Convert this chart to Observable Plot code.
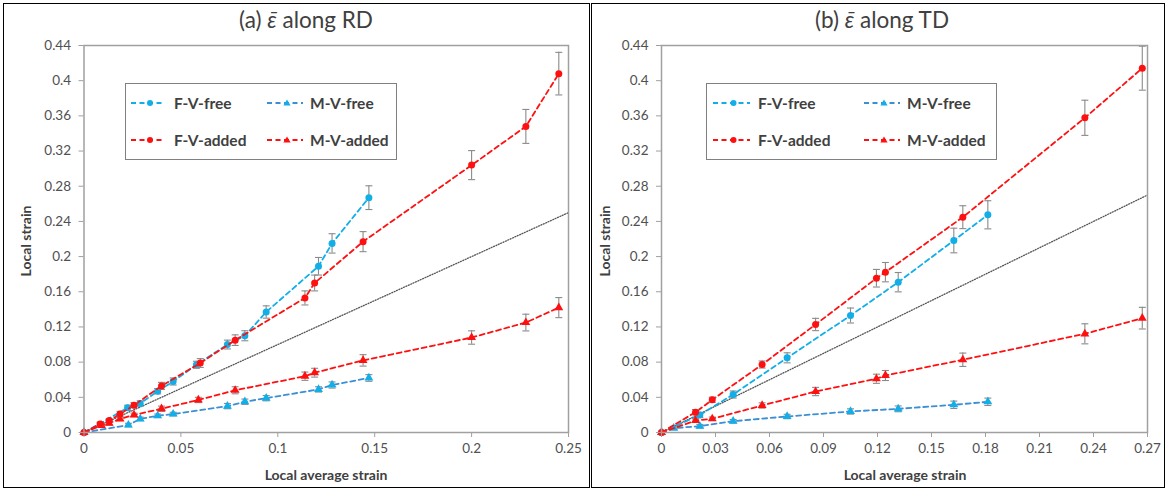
<!DOCTYPE html>
<html><head><meta charset="utf-8">
<script src="https://cdn.jsdelivr.net/npm/d3@7"></script>
<script src="https://cdn.jsdelivr.net/npm/@observablehq/plot@0.6"></script>
<style>
body{margin:0;background:#fff;font-family:Lato,"Open Sans",sans-serif;}
#wrap{position:relative;width:1168px;height:491px;overflow:hidden;background:#fff}
.frame{position:absolute;border:1.5px solid #000;box-sizing:border-box}
.title{position:absolute;top:6px;font-size:22.5px;color:#404040;white-space:nowrap;transform:translateX(-50%)}
.xlab{position:absolute;top:466px;font-size:14px;font-weight:bold;color:#404040;transform:translateX(-50%);white-space:nowrap}
.ylab{position:absolute;font-size:14px;font-weight:bold;color:#404040;white-space:nowrap;transform:translate(-50%,-50%) rotate(-90deg)}
.plot{position:absolute;top:38px}
.legend{position:absolute;border:1.5px solid #808080;box-sizing:border-box;background:#fff}
.item{position:absolute;height:20px;display:flex;align-items:center}
.item span{font-size:15.5px;font-weight:bold;color:#404040;white-space:nowrap}
</style></head>
<body><div id="wrap"></div>
<script>
// ---------- Data ----------
const xTicksRD = [0, 0.05, 0.1, 0.15, 0.2, 0.25];
const xTicksTD = [0, 0.03, 0.06, 0.09, 0.12, 0.15, 0.18, 0.21, 0.24, 0.27];
const yTicks = [0, 0.04, 0.08, 0.12, 0.16, 0.2, 0.24, 0.28, 0.32, 0.36, 0.4, 0.44];
const seriesNames = ["F-V-free", "M-V-free", "F-V-added", "M-V-added"];

// (a) along RD
const rdFVfreeX = [0, 0.0225, 0.029, 0.038, 0.046, 0.058, 0.074, 0.083, 0.094, 0.121, 0.128, 0.147];
const rdFVfreeY = [0, 0.028, 0.033, 0.047, 0.058, 0.077, 0.100, 0.110, 0.137, 0.189, 0.215, 0.267];
const rdFVfreeE = [0, 0.003, 0.003, 0.003, 0.004, 0.004, 0.005, 0.0057, 0.007, 0.010, 0.011, 0.0135];

const rdMVfreeX = [0, 0.0229, 0.029, 0.038, 0.046, 0.074, 0.083, 0.094, 0.121, 0.128, 0.147];
const rdMVfreeY = [0, 0.0085, 0.0155, 0.019, 0.021, 0.030, 0.035, 0.039, 0.049, 0.054, 0.062];
const rdMVfreeE = [0, 0.002, 0.002, 0.002, 0.002, 0.003, 0.003, 0.003, 0.003, 0.0035, 0.0038];

const rdFVaddX = [0, 0.0083, 0.013, 0.0186, 0.0258, 0.040, 0.060, 0.078, 0.114, 0.119, 0.144, 0.200, 0.228, 0.245];
const rdFVaddY = [0, 0.0097, 0.0136, 0.021, 0.031, 0.053, 0.079, 0.105, 0.153, 0.170, 0.217, 0.304, 0.348, 0.408];
const rdFVaddE = [0, 0.002, 0.002, 0.003, 0.003, 0.004, 0.005, 0.006, 0.008, 0.009, 0.0114, 0.0165, 0.0193, 0.0242];

const rdMVaddX = [0, 0.009, 0.013, 0.0186, 0.0258, 0.040, 0.059, 0.078, 0.114, 0.119, 0.144, 0.200, 0.228, 0.245];
const rdMVaddY = [0, 0.008, 0.0105, 0.0155, 0.020, 0.027, 0.037, 0.048, 0.064, 0.068, 0.082, 0.108, 0.125, 0.142];
const rdMVaddE = [0, 0.002, 0.002, 0.002, 0.002, 0.003, 0.003, 0.004, 0.0047, 0.005, 0.0065, 0.0076, 0.0095, 0.0114];

// (b) along TD
const tdFVfreeX = [0, 0.0213, 0.0398, 0.0698, 0.105, 0.1315, 0.1624, 0.1813];
const tdFVfreeY = [0, 0.020, 0.0432, 0.0849, 0.133, 0.1709, 0.2183, 0.2475];
const tdFVfreeE = [0, 0.003, 0.004, 0.0057, 0.0085, 0.011, 0.014, 0.016];

const tdMVfreeX = [0, 0.0068, 0.0213, 0.0398, 0.0698, 0.105, 0.1315, 0.1624, 0.1813];
const tdMVfreeY = [0, 0.0049, 0.0072, 0.0128, 0.0182, 0.0239, 0.0269, 0.0315, 0.0349];
const tdMVfreeE = [0, 0.0015, 0.002, 0.002, 0.0025, 0.003, 0.0033, 0.0042, 0.0042];

const tdFVaddX = [0, 0.0189, 0.0282, 0.0559, 0.0856, 0.1194, 0.1244, 0.1674, 0.2352, 0.2671];
const tdFVaddY = [0, 0.0231, 0.0372, 0.0773, 0.1228, 0.1754, 0.1823, 0.2448, 0.3578, 0.4142];
const tdFVaddE = [0, 0.003, 0.003, 0.004, 0.007, 0.010, 0.011, 0.013, 0.020, 0.025];

const tdMVaddX = [0, 0.0189, 0.0282, 0.0559, 0.0856, 0.1194, 0.1244, 0.1674, 0.2352, 0.2671];
const tdMVaddY = [0, 0.0136, 0.0156, 0.0307, 0.0466, 0.0611, 0.0648, 0.0827, 0.1122, 0.130];
const tdMVaddE = [0, 0.002, 0.002, 0.003, 0.0047, 0.0052, 0.0057, 0.0076, 0.0114, 0.0123];

// ---------- Styles ----------
const lightBlue = "#12aee8";
const midBlue = "#3b8fd4";
const red = "#ff1010";
const styles = {
  "F-V-free": {line: lightBlue, fill: lightBlue, symbol: "circle", r: 3.5},
  "M-V-free": {line: midBlue, fill: lightBlue, symbol: "triangle", r: 3.3},
  "F-V-added": {line: red, fill: red, symbol: "circle", r: 3.5},
  "M-V-added": {line: red, fill: red, symbol: "triangle", r: 3.3}
};
const capSymbol = {draw(ctx, size) { const w = Math.sqrt(size / Math.PI); ctx.moveTo(-w, 0); ctx.lineTo(w, 0); }};
const fmt = d => d3.format(".2f")(d).replace(/\.?0+$/, "");
const table = (xs, ys, es) => xs.map((x, i) => ({x, y: ys[i], e: es[i]}));

function seriesMarks(name, rows) {
  const s = styles[name];
  const withErr = rows.filter(d => d.e > 0);
  return [
    Plot.line(rows, {x: "x", y: "y", stroke: s.line, strokeWidth: 1.8, strokeDasharray: "5,3.5"}),
    Plot.ruleX(withErr, {x: "x", y1: d => d.y - d.e, y2: d => d.y + d.e, stroke: "#8a8a8a", strokeWidth: 1.1}),
    Plot.dot(withErr, {x: "x", y: d => d.y - d.e, symbol: capSymbol, r: 3.5, stroke: "#8a8a8a", strokeWidth: 1.1, fill: "none"}),
    Plot.dot(withErr, {x: "x", y: d => d.y + d.e, symbol: capSymbol, r: 3.5, stroke: "#8a8a8a", strokeWidth: 1.1, fill: "none"}),
    Plot.dot(rows, {x: "x", y: "y", symbol: s.symbol, r: s.r, fill: s.fill, stroke: "none"})
  ];
}

function panel(opts) {
  const xMax = opts.xTicks[opts.xTicks.length - 1];
  const diag = [0, xMax];
  return Plot.plot({
    width: opts.width, height: 450,
    marginLeft: opts.ml, marginRight: opts.mr, marginTop: 7, marginBottom: 56,
    x: {domain: [0, xMax]},
    y: {domain: [0, 0.44]},
    style: {fontFamily: "Lato, 'Open Sans', sans-serif", fontSize: "13.5px", color: "#505050", background: "transparent"},
    marks: [
      Plot.line(diag, {x: d => d, y: d => d, stroke: "#555", strokeWidth: 1.3, strokeDasharray: "1,1.6"}),
      ...opts.series.flatMap(([name, rows]) => seriesMarks(name, rows)),
      Plot.frame({stroke: "#a0a0a0", strokeWidth: 1.5}),
      Plot.axisX(opts.xTicks, {tickSize: 5, tickPadding: 6, tickFormat: fmt, label: null, stroke: "#a0a0a0", fill: "#505050"}),
      Plot.axisY(yTicks, {tickSize: 5, tickPadding: 8, tickFormat: fmt, label: null, stroke: "#a0a0a0", fill: "#505050"})
    ]
  });
}

const wrap = document.getElementById("wrap");
function add(html) { wrap.insertAdjacentHTML("beforeend", html); }

// frames
add(`<div class="frame" style="left:3px;top:3px;width:587px;height:485px"></div>`);
add(`<div class="frame" style="left:591px;top:3px;width:574px;height:485px"></div>`);

const left = panel({width: 584, ml: 79.5, mr: 20, xTicks: xTicksRD, series: [
  ["F-V-free", table(rdFVfreeX, rdFVfreeY, rdFVfreeE)],
  ["M-V-free", table(rdMVfreeX, rdMVfreeY, rdMVfreeE)],
  ["M-V-added", table(rdMVaddX, rdMVaddY, rdMVaddE)],
  ["F-V-added", table(rdFVaddX, rdFVaddY, rdFVaddE)]
]});
left.classList.add("plot"); left.style.left = "4px"; wrap.appendChild(left);

const right = panel({width: 572, ml: 69, mr: 17, xTicks: xTicksTD, series: [
  ["F-V-free", table(tdFVfreeX, tdFVfreeY, tdFVfreeE)],
  ["M-V-free", table(tdMVfreeX, tdMVfreeY, tdMVfreeE)],
  ["M-V-added", table(tdMVaddX, tdMVaddY, tdMVaddE)],
  ["F-V-added", table(tdFVaddX, tdFVaddY, tdFVaddE)]
]});
right.classList.add("plot"); right.style.left = "592px"; wrap.appendChild(right);

// titles & axis labels
add(`<div class="title" style="left:306px">(a) <i>ε̄</i> along RD</div>`);
add(`<div class="title" style="left:882px">(b) <i>ε̄</i> along TD</div>`);
add(`<div class="xlab" style="left:326px">Local average strain</div>`);
add(`<div class="xlab" style="left:905px">Local average strain</div>`);
add(`<div class="ylab" style="left:25px;top:241px">Local strain</div>`);
add(`<div class="ylab" style="left:604px;top:241px">Local strain</div>`);

// legends
function sample(name, w) {
  const s = styles[name];
  const m = w / 2 + 2;
  const marker = s.symbol === "circle"
    ? `<circle cx="${m}" cy="10" r="3" fill="${s.fill}"/>`
    : `<path d="M${m},6.5 L${m + 3.6},12.5 L${m - 3.6},12.5Z" fill="${s.fill}"/>`;
  return `<svg width="${w}" height="20"><line x1="0" y1="10" x2="${w}" y2="10" stroke="${s.line}" stroke-width="1.8" stroke-dasharray="5,3.5"/>${marker}</svg>`;
}
function legend(box, cols) {
  let h = `<div class="legend" style="left:${box.left}px;top:83px;width:${box.width}px;height:77px">`;
  const rows = [[seriesNames[0], seriesNames[1]], [seriesNames[2], seriesNames[3]]];
  rows.forEach((row, ri) => row.forEach((name, ci) => {
    const c = cols[ci];
    h += `<div class="item" style="left:${c.s - box.left}px;top:${(ri === 0 ? 9 : 46)}px">${sample(name, c.w)}<span style="margin-left:${c.gap}px">${name}</span></div>`;
  }));
  h += `</div>`;
  add(h);
}
legend({left: 125, width: 272}, [{s: 130, w: 34, gap: 9}, {s: 266, w: 36, gap: 7}]);
legend({left: 706, width: 291}, [{s: 712, w: 37, gap: 8}, {s: 863, w: 36, gap: 7}]);
</script>
</body></html>
